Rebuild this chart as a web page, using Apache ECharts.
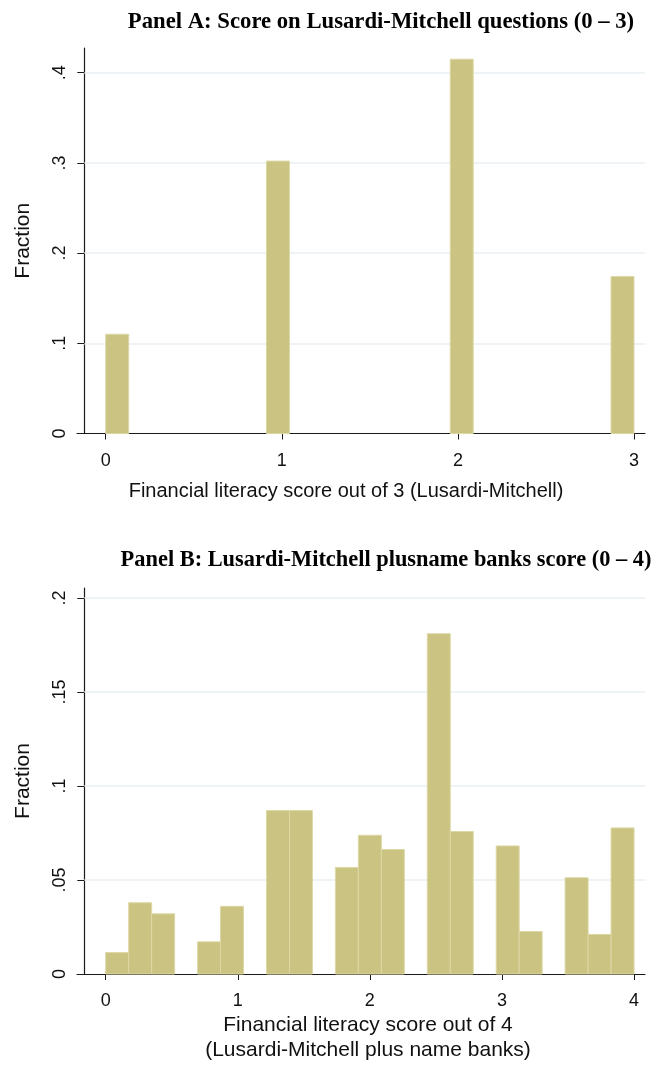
<!DOCTYPE html>
<html>
<head>
<meta charset="utf-8">
<script src="https://cdn.jsdelivr.net/npm/echarts@6/dist/echarts.min.js"></script>
<style>
  html, body { margin: 0; padding: 0; background: #ffffff; }
  #chart { width: 652px; height: 1066px; }
</style>
</head>
<body>
<div id="chart"></div>
<script>
// Histogram of financial literacy scores, two panels, 23 equal-width bins each.
const titleA = 'Panel A: Score on Lusardi-Mitchell questions (0 \u2013 3)';
const titleB = 'Panel B: Lusardi-Mitchell plusname banks score (0 \u2013 4)';
const xNameA = 'Financial literacy score out of 3 (Lusardi-Mitchell)';
const xNameB = 'Financial literacy score out of 4\n(Lusardi-Mitchell plus name banks)';
const yName = 'Fraction';

// Panel A: bins over [0, 3]
const rangeA = [0, 3];
const binCountA = 23;
const fractionsA = [
  0.110, 0, 0, 0, 0, 0, 0, 0.302, 0, 0, 0, 0,
  0, 0, 0, 0.415, 0, 0, 0, 0, 0, 0, 0.174
];
const xTicksA = [0, 1, 2, 3];
const yTicksA = [0, 0.1, 0.2, 0.3, 0.4];

// Panel B: bins over [0, 4]
const rangeB = [0, 4];
const binCountB = 23;
const fractionsB = [
  0.0114, 0.0379, 0.0320, 0, 0.0171, 0.0360, 0, 0.0869, 0.0869, 0, 0.0567, 0.0738,
  0.0662, 0, 0.1810, 0.0758, 0, 0.0681, 0.0226, 0, 0.0512, 0.0210, 0.0777
];
const xTicksB = [0, 1, 2, 3, 4];
const yTicksB = [0, 0.05, 0.1, 0.15, 0.2];

const BAR_FILL = '#cbc381';
const BAR_EDGE = '#dcd8a6';
const AXIS_COLOR = '#1a1a1a';
const GRID_COLOR = '#e8f0f2';
const SANS = '"Liberation Sans", Arial, sans-serif';
const SERIF = '"Liberation Serif", "Times New Roman", serif';

// x extents of each plot; the y axis crosses a little inside the left end,
// so the x axis line runs slightly past it
const xExtentA = [-0.163, 3.0625];
const yCrossA = -0.1215;
const xExtentB = [-0.2173, 4.083];
const yCrossB = -0.162;

function toBins(range, count, fractions) {
  const w = (range[1] - range[0]) / count;
  const out = [];
  fractions.forEach((f, i) => {
    if (f > 0) out.push([range[0] + i * w, range[0] + (i + 1) * w, f]);
  });
  return out;
}

function renderBin(params, api) {
  const a = api.coord([api.value(0), api.value(2)]);
  const b = api.coord([api.value(1), 0]);
  return {
    type: 'rect',
    shape: { x: a[0], y: a[1], width: b[0] - a[0], height: b[1] - a[1] },
    style: { fill: BAR_FILL, stroke: BAR_EDGE, lineWidth: 1 }
  };
}

function fmtY(v) {
  if (v === 0) return '0';
  return String(+v.toFixed(3)).replace(/^0\./, '.');
}

function xAxisCfg(gridIndex, extent, ticks, name, nameGap, nameSize, namePad) {
  return {
    type: 'value', gridIndex, min: extent[0], max: extent[1],
    name, nameLocation: 'middle', nameGap,
    nameTextStyle: { fontFamily: SANS, fontSize: nameSize, color: '#111',
                     lineHeight: 25, padding: namePad },
    axisLine: { show: true, onZero: false, lineStyle: { color: AXIS_COLOR, width: 1.2 } },
    axisTick: { show: true, length: 6, customValues: ticks, lineStyle: { color: AXIS_COLOR } },
    axisLabel: { customValues: ticks, margin: 18.5, fontFamily: SANS, fontSize: 18, color: '#111' },
    splitLine: { show: false }
  };
}

function yAxisCfg(gridIndex, max, ticks, offset) {
  return {
    type: 'value', gridIndex, min: 0, max, offset,
    name: yName, nameLocation: 'middle', nameGap: 51,
    nameTextStyle: { fontFamily: SANS, fontSize: 21, color: '#111' },
    axisLine: { show: true, onZero: false, lineStyle: { color: AXIS_COLOR, width: 1.2 } },
    axisTick: { show: true, length: 7, customValues: ticks, lineStyle: { color: AXIS_COLOR } },
    axisLabel: { customValues: ticks, rotate: 90, margin: 15, fontFamily: SANS, fontSize: 18,
                 color: '#111', formatter: fmtY },
    splitLine: { show: false }
  };
}

function gridLines(ticks, fromX, toX) {
  return {
    silent: true, symbol: 'none', z: 1,
    label: { show: false },
    lineStyle: { color: GRID_COLOR, type: 'solid', width: 1.5 },
    data: ticks.filter(v => v > 0).map(v => [{ coord: [fromX, v] }, { coord: [toX, v] }])
  };
}

const chart = echarts.init(document.getElementById('chart'), null, { renderer: 'canvas' });
chart.setOption({
  animation: false,
  backgroundColor: '#ffffff',
  title: [
    { text: titleA, left: 376, top: 6, textAlign: 'center',
      textStyle: { fontFamily: SERIF, fontWeight: 'bold', fontSize: 22.7, color: '#000' } },
    { text: titleB, left: 381, top: 544, textAlign: 'center',
      textStyle: { fontFamily: SERIF, fontWeight: 'bold', fontSize: 22.4, color: '#000' } }
  ],
  grid: [
    { left: 77, right: 7, top: 48, height: 385.5, outerBoundsMode: 'none' },
    { left: 77, right: 7, top: 588, height: 386, outerBoundsMode: 'none' }
  ],
  xAxis: [
    xAxisCfg(0, xExtentA, xTicksA, xNameA, 45, 20, [0, 30, 0, 0]),
    xAxisCfg(1, xExtentB, xTicksB, xNameB, 39, 21, [0, 0, 0, 14])
  ],
  yAxis: [
    yAxisCfg(0, 0.4274, yTicksA, -7.3),
    yAxisCfg(1, 0.2053, yTicksB, -7.3)
  ],
  series: [
    { type: 'custom', xAxisIndex: 0, yAxisIndex: 0, z: 2,
      renderItem: renderBin, data: toBins(rangeA, binCountA, fractionsA),
      markLine: gridLines(yTicksA, yCrossA, xExtentA[1]) },
    { type: 'custom', xAxisIndex: 1, yAxisIndex: 1, z: 2,
      renderItem: renderBin, data: toBins(rangeB, binCountB, fractionsB),
      markLine: gridLines(yTicksB, yCrossB, xExtentB[1]) }
  ]
});
</script>
</body>
</html>
